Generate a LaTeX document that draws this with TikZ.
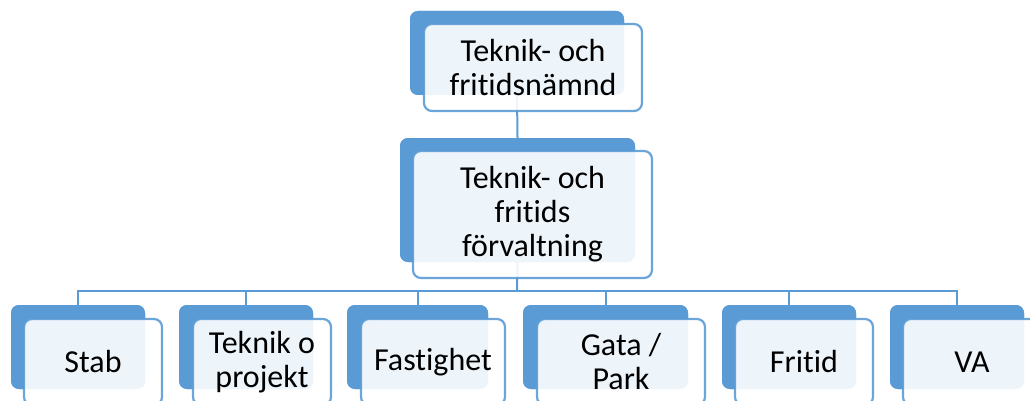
\documentclass[tikz,border=0pt]{standalone}
\usepackage{fontspec}
\setmainfont[Ligatures={NoCommon}]{Carlito}
\definecolor{obl}{HTML}{5B9BD5}
\begin{document}
\begin{tikzpicture}[x=1pt,y=-1pt,
  back/.style={rectangle, rounded corners=8pt, fill=obl, draw=none, inner sep=0pt},
  front/.style={rectangle, rounded corners=8pt, fill=white, draw=obl, line width=2.2pt,
     fill opacity=0.9, draw opacity=0.9, text opacity=1, inner sep=0pt, align=center,
     font=\fontsize{32}{34}\selectfont, text=black},
  conn/.style={draw=obl, line width=2pt}]
\useasboundingbox (0,0) rectangle (1030,401);
\clip (0,0) rectangle (1030,401);
% back rectangles (positions)
\coordinate (bus) at (517,291);
\node[back, minimum width=214pt, minimum height=84pt] (b0) at (517,53) {};
\node[back, minimum width=235pt, minimum height=124pt] (b1) at (517.5,200) {};
\node[back, minimum width=134pt, minimum height=84pt] (bs) at (78,347) {};
\node[back, minimum width=134pt, minimum height=84pt] (bt) at (246,347) {};
\node[back, minimum width=141pt, minimum height=84pt] (bf) at (417.5,347) {};
\node[back, minimum width=165pt, minimum height=84pt] (bg) at (605.5,347) {};
\node[back, minimum width=134pt, minimum height=84pt] (br) at (789,347) {};
\node[back, minimum width=134pt, minimum height=84pt] (bv) at (957,347) {};
% connectors
\draw[conn] (b0.south) -- (b1.north);
\draw[conn] (b1.south) -- (bus);
\draw[conn] (bs.north) |- (bus) -| (bv.north);
\draw[conn] (bt.north) -- (bt.north |- bus);
\draw[conn] (bf.north) -- (bf.north |- bus);
\draw[conn] (bg.north) -- (bg.north |- bus);
\draw[conn] (br.north) -- (br.north |- bus);
% redraw backs over connectors
\node[back, minimum width=214pt, minimum height=84pt] at (b0) {};
\node[back, minimum width=235pt, minimum height=124pt] at (b1) {};
\node[back, minimum width=134pt, minimum height=84pt] at (bs) {};
\node[back, minimum width=134pt, minimum height=84pt] at (bt) {};
\node[back, minimum width=141pt, minimum height=84pt] at (bf) {};
\node[back, minimum width=165pt, minimum height=84pt] at (bg) {};
\node[back, minimum width=134pt, minimum height=84pt] at (br) {};
\node[back, minimum width=134pt, minimum height=84pt] at (bv) {};
% front boxes with text
\node[front, minimum width=218pt, minimum height=87pt] (f0) at (533,67.5) {Teknik- och\\fritidsnämnd};
\node[front, minimum width=239pt, minimum height=127pt] (f1) at (532.5,214.5) {Teknik- och\\fritids\\förvaltning};
\node[front, minimum width=138pt, minimum height=86pt] (fs) at (93,362) {Stab};
\node[front, minimum width=138pt, minimum height=86pt] (ft) at (262,362) {Teknik o\\projekt};
\node[front, minimum width=144pt, minimum height=86pt] (ff) at (433,362) {Fastighet};
\node[front, minimum width=168pt, minimum height=86pt] (fg) at (621,362) {Gata /\\Park};
\node[front, minimum width=138pt, minimum height=86pt] (fr) at (804,362) {Fritid};
\node[front, minimum width=138pt, minimum height=86pt] (fv) at (972,362) {VA};
\end{tikzpicture}
\end{document}
